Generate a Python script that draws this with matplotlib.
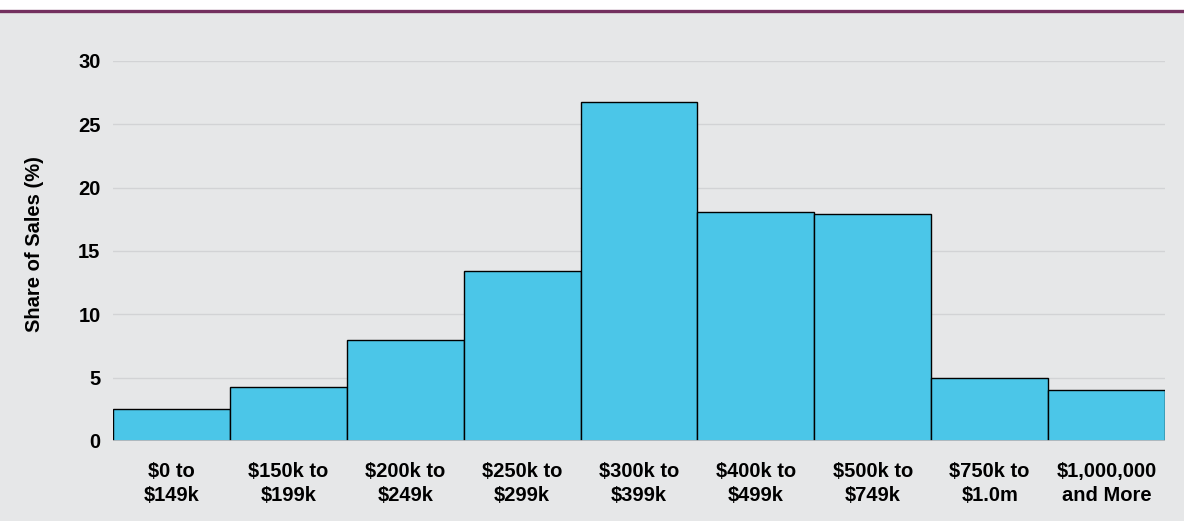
import matplotlib.pyplot as plt
from matplotlib.lines import Line2D
from matplotlib.patches import Rectangle

plt.rcParams['font.family'] = ['Liberation Sans', 'DejaVu Sans']

price_ranges = ['$0 to\n$149k', '$150k to\n$199k', '$200k to\n$249k', '$250k to\n$299k',
                '$300k to\n$399k', '$400k to\n$499k', '$500k to\n$749k', '$750k to\n$1.0m',
                '$1,000,000\nand More']
share_pct = [2.5, 4.3, 8.0, 13.4, 26.8, 18.1, 17.9, 5.0, 4.0]
y_ticks = [0, 5, 10, 15, 20, 25, 30]

bg = '#e6e7e8'
fig = plt.figure(figsize=(11.84, 5.21), dpi=100)
fig.patch.set_facecolor(bg)
# white strip and purple rule at the top
fig.add_artist(Rectangle((0, 1 - 11 / 521), 1, 11 / 521, transform=fig.transFigure,
                         facecolor='white', edgecolor='none'))
fig.add_artist(Line2D([0, 1], [1 - 11 / 521, 1 - 11 / 521], transform=fig.transFigure,
                      color='#74305f', linewidth=2.4))

ax = fig.add_axes([113 / 1184, 1 - 441 / 521, (1165 - 113) / 1184, (441 - 61) / 521])
ax.set_facecolor(bg)

x = range(len(share_pct))
ax.bar(x, share_pct, width=1.0, color='#4bc6e8', edgecolor='black', linewidth=1.0, zorder=3)

ax.set_xlim(-0.5, len(share_pct) - 0.5)
ax.set_ylim(0, 30)
ax.set_yticks(y_ticks)
ax.set_yticklabels([str(t) for t in y_ticks], fontsize=14.5, fontweight='bold')
ax.set_xticks(list(x))
ax.set_xticklabels(price_ranges, fontsize=14.5, fontweight='bold', linespacing=1.35)
ax.tick_params(axis='both', length=0)
ax.tick_params(axis='y', pad=9)
ax.tick_params(axis='x', pad=15)

for t in y_ticks[1:]:
    ax.axhline(t, color='#d2d3d5', linewidth=1.0, zorder=1)
ax.axhline(0, color='#bcbdc0', linewidth=2.0, zorder=4)

for s in ax.spines.values():
    s.set_visible(False)

ax.set_ylabel('Share of Sales (%)', fontsize=14.5, fontweight='bold')
ax.yaxis.set_label_coords(-0.0656, 0.518)

fig.savefig('out.png', dpi=100, facecolor=fig.get_facecolor())
